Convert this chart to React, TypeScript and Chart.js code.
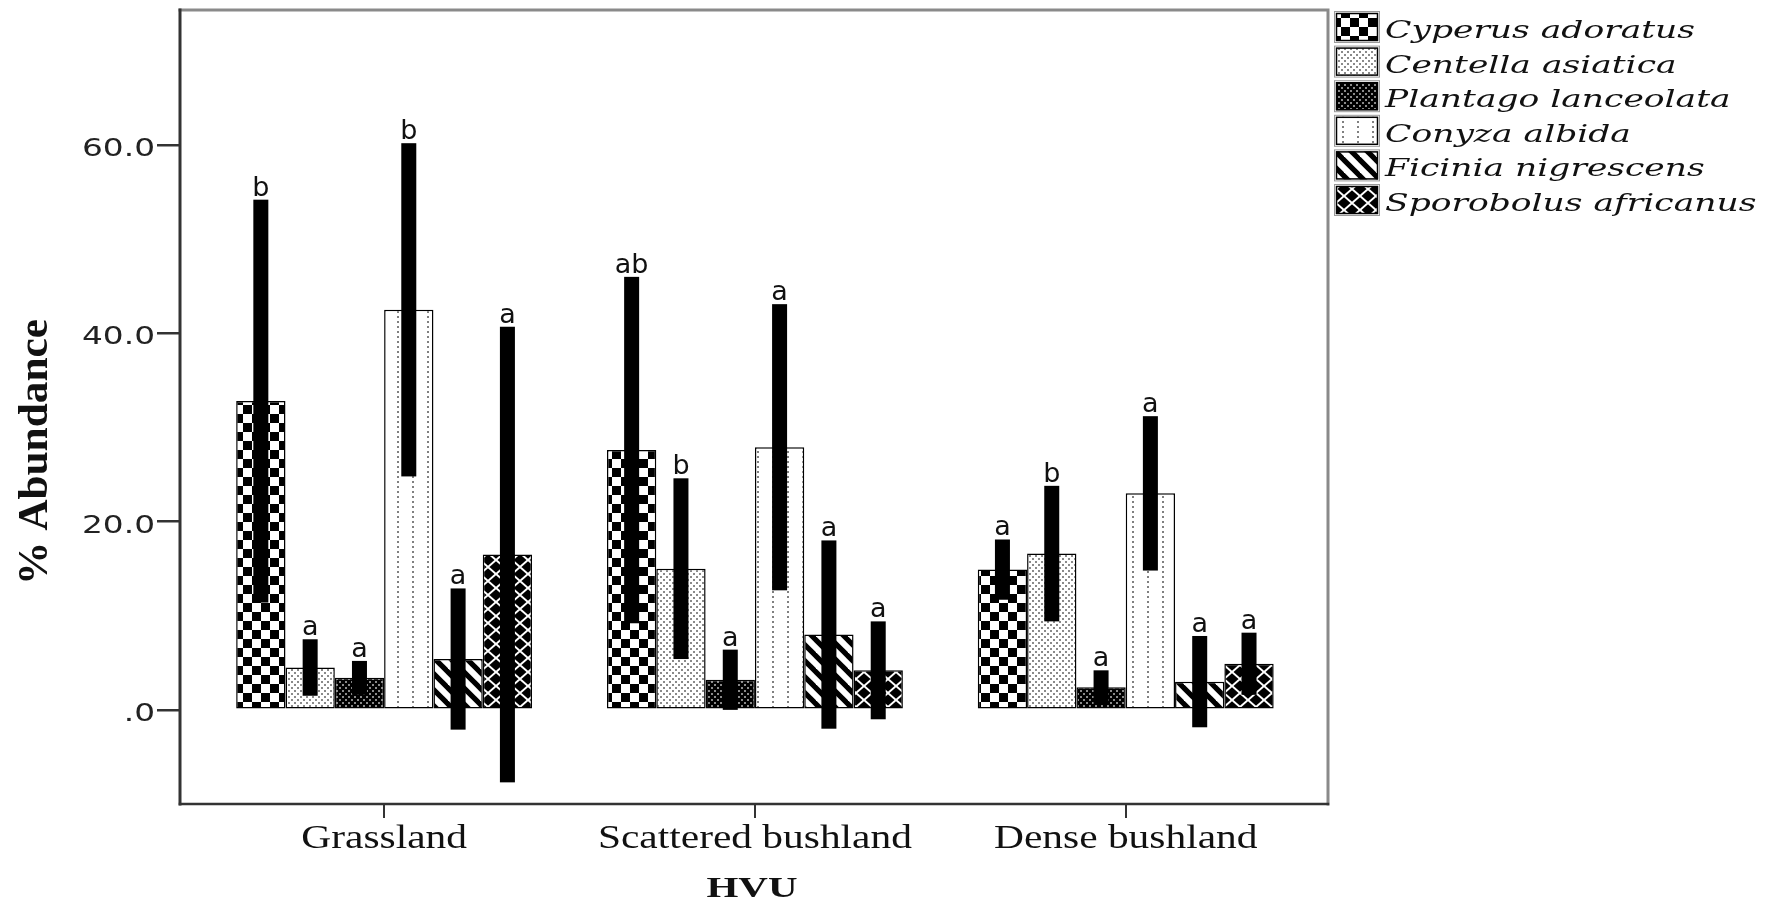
import React, { useEffect, useRef } from 'react';
import { Chart, registerables } from 'chart.js';

Chart.register(...registerables);

// ---------- data ----------
const categories = ['Grassland', 'Scattered bushland', 'Dense bushland'];
const speciesNames = [
  'Cyperus adoratus',
  'Centella asiatica',
  'Plantago lanceolata',
  'Conyza albida',
  'Ficinia nigrescens',
  'Sporobolus africanus',
];

const cyperusMean = [32.8, 27.6, 14.9];
const cyperusErr = [21.4, 18.4, 3.2];
const cyperusLetters = ['b', 'ab', 'a'];

const centellaMean = [4.5, 15.0, 16.6];
const centellaErr = [3.0, 9.6, 7.2];
const centellaLetters = ['a', 'b', 'b'];

const plantagoMean = [3.4, 3.2, 2.4];
const plantagoErr = [1.8, 3.2, 1.8];
const plantagoLetters = ['a', 'a', 'a'];

const conyzaMean = [42.5, 27.9, 23.0];
const conyzaErr = [17.7, 15.2, 8.2];
const conyzaLetters = ['b', 'a', 'a'];

const ficiniaMean = [5.4, 8.0, 3.0];
const ficiniaErr = [7.5, 10.0, 4.85];
const ficiniaLetters = ['a', 'a', 'a'];

const sporobolusMean = [16.5, 4.2, 4.9];
const sporobolusErr = [24.2, 5.2, 3.3];
const sporobolusLetters = ['a', 'a', 'a'];

const yTicks = [0, 20, 40, 60];
const yTickLabels = ['.0', '20.0', '40.0', '60.0'];
const yMin = -10;
const yMax = 74.35;
const xMin = -0.5505;
const xMax = 2.5455;
const xAxisTitle = 'HVU';
const yAxisTitle = '% Abundance';

// ---------- patterns ----------
function makePattern(w: number, h: number, draw: (g: CanvasRenderingContext2D) => void) {
  const c = document.createElement('canvas');
  c.width = w;
  c.height = h;
  const g = c.getContext('2d')!;
  draw(g);
  return g.createPattern(c, 'repeat')!;
}

function buildPatterns() {
  const checker = makePattern(18, 18, (g) => {
    g.fillStyle = '#fff';
    g.fillRect(0, 0, 18, 18);
    g.fillStyle = '#000';
    g.fillRect(0, 0, 9, 9);
    g.fillRect(9, 9, 9, 9);
  });
  const lightDots = makePattern(6, 6, (g) => {
    g.fillStyle = '#fff';
    g.fillRect(0, 0, 6, 6);
    g.fillStyle = '#8a8a8a';
    g.fillRect(0, 0, 2, 2);
    g.fillRect(3, 3, 2, 2);
  });
  const darkDots = makePattern(6, 6, (g) => {
    g.fillStyle = '#000';
    g.fillRect(0, 0, 6, 6);
    g.fillStyle = '#8a8a8a';
    g.fillRect(0, 0, 2, 2);
    g.fillRect(3, 3, 2, 2);
  });
  const vDots = makePattern(15, 5, (g) => {
    g.fillStyle = '#fff';
    g.fillRect(0, 0, 15, 5);
    g.fillStyle = '#808080';
    g.fillRect(7, 1, 2, 2);
  });
  const stripes = makePattern(16, 16, (g) => {
    g.fillStyle = '#fff';
    g.fillRect(0, 0, 16, 16);
    g.strokeStyle = '#000';
    g.lineWidth = 5.2;
    for (const k of [-16, 0, 16]) {
      g.beginPath();
      g.moveTo(k - 2, -2);
      g.lineTo(k + 18, 18);
      g.stroke();
    }
  });
  const lattice = makePattern(16, 14, (g) => {
    g.fillStyle = '#000';
    g.fillRect(0, 0, 16, 14);
    g.strokeStyle = '#fff';
    g.lineWidth = 2;
    g.beginPath();
    g.moveTo(0, 0);
    g.lineTo(16, 14);
    g.moveTo(16, 0);
    g.lineTo(0, 14);
    g.stroke();
  });
  return [checker, lightDots, darkDots, vDots, stripes, lattice];
}

function drawText(
  ctx: CanvasRenderingContext2D,
  text: string,
  x: number,
  y: number,
  font: string,
  align: CanvasTextAlign,
  sx: number,
  color = '#111'
) {
  ctx.save();
  ctx.font = font;
  ctx.fillStyle = color;
  ctx.textAlign = align;
  ctx.textBaseline = 'alphabetic';
  ctx.translate(x, y);
  ctx.scale(sx, 1);
  ctx.fillText(text, 0, 0);
  ctx.restore();
}

function widthScale(ctx: CanvasRenderingContext2D, font: string, sample: string, target: number) {
  ctx.save();
  ctx.font = font;
  const w = ctx.measureText(sample).width;
  ctx.restore();
  return w > 0 ? target / w : 1;
}

export default function App() {
  const ref = useRef<HTMLCanvasElement>(null);

  useEffect(() => {
    const canvas = ref.current!;
    const patterns = buildPatterns();
    const series = [
      { name: speciesNames[0], mean: cyperusMean, err: cyperusErr, letters: cyperusLetters },
      { name: speciesNames[1], mean: centellaMean, err: centellaErr, letters: centellaLetters },
      { name: speciesNames[2], mean: plantagoMean, err: plantagoErr, letters: plantagoLetters },
      { name: speciesNames[3], mean: conyzaMean, err: conyzaErr, letters: conyzaLetters },
      { name: speciesNames[4], mean: ficiniaMean, err: ficiniaErr, letters: ficiniaLetters },
      { name: speciesNames[5], mean: sporobolusMean, err: sporobolusErr, letters: sporobolusLetters },
    ];

    const decor = {
      id: 'decor',
      afterDatasetsDraw(chart: any) {
        const ctx = chart.ctx as CanvasRenderingContext2D;
        const ys = chart.scales.y;
        series.forEach((s, di) => {
          const meta = chart.getDatasetMeta(di);
          meta.data.forEach((bar: any, i: number) => {
            const cx = bar.x;
            const top = ys.getPixelForValue(s.mean[i] + s.err[i]);
            const bot = ys.getPixelForValue(s.mean[i] - s.err[i]);
            ctx.save();
            ctx.fillStyle = '#000';
            ctx.fillRect(cx - 7.5, top, 15, bot - top);
            ctx.restore();
            drawText(ctx, s.letters[i], cx, top - 4, '27px "DejaVu Sans"', 'center', 1, '#111');
          });
        });
      },
      afterDraw(chart: any) {
        const ctx = chart.ctx as CanvasRenderingContext2D;
        const area = chart.chartArea;
        const xs = chart.scales.x;
        const ys = chart.scales.y;

        // frame
        ctx.save();
        ctx.lineCap = 'square';
        ctx.strokeStyle = '#8a8a8a';
        ctx.lineWidth = 3;
        ctx.beginPath();
        ctx.moveTo(area.left, area.top);
        ctx.lineTo(area.right, area.top);
        ctx.lineTo(area.right, area.bottom);
        ctx.stroke();
        ctx.strokeStyle = '#333';
        ctx.lineWidth = 3;
        ctx.beginPath();
        ctx.moveTo(area.left, area.top);
        ctx.lineTo(area.left, area.bottom);
        ctx.stroke();
        ctx.lineWidth = 2.5;
        ctx.beginPath();
        ctx.moveTo(area.left, area.bottom);
        ctx.lineTo(area.right, area.bottom);
        ctx.stroke();
        ctx.restore();

        // y tick labels
        const yFont = '24px "DejaVu Sans"';
        const sxY = widthScale(ctx, yFont, '60.0', 73);
        yTicks.forEach((v, i) => {
          drawText(ctx, yTickLabels[i], area.left - 25, ys.getPixelForValue(v) + 11, yFont, 'right', sxY, '#222');
        });

        // x tick labels
        const xFont = '33px "Liberation Serif"';
        const sxX = widthScale(ctx, xFont, 'Scattered bushland', 314);
        categories.forEach((c, i) => {
          drawText(ctx, c, xs.getPixelForValue(i), area.bottom + 44, xFont, 'center', sxX, '#111');
        });

        // axis titles
        const xtFont = 'bold 30px "Liberation Serif"';
        drawText(ctx, xAxisTitle, (area.left + area.right) / 2 - 2, area.bottom + 93, xtFont, 'center',
          widthScale(ctx, xtFont, xAxisTitle, 91), '#111');

        const ytFont = 'bold 43px "Liberation Serif"';
        const sxT = widthScale(ctx, ytFont, yAxisTitle, 266);
        ctx.save();
        ctx.translate(47, (area.top + area.bottom) / 2 + 45);
        ctx.rotate(-Math.PI / 2);
        drawText(ctx, yAxisTitle, 0, 0, ytFont, 'center', sxT, '#111');
        ctx.restore();

        // legend
        const lFont = 'italic 25px "DejaVu Serif"';
        const sxL = widthScale(ctx, lFont, speciesNames[0], 310);
        speciesNames.forEach((name, i) => {
          const yc = 27 + 34.6 * i;
          ctx.save();
          ctx.fillStyle = patterns[i];
          ctx.fillRect(1336, yc - 14, 42, 28);
          ctx.strokeStyle = '#000';
          ctx.lineWidth = 1.5;
          ctx.strokeRect(1336.5, yc - 13.5, 41, 27);
          ctx.strokeStyle = '#999';
          ctx.lineWidth = 1;
          ctx.strokeRect(1334.5, yc - 15.5, 45, 31);
          ctx.restore();
          drawText(ctx, name, 1385, yc + 11, lFont, 'left', sxL, '#111');
        });
      },
    };

    const chart = new Chart(canvas, {
      type: 'bar',
      data: {
        datasets: series.map((s, di) => ({
          label: s.name,
          data: s.mean.map((v, i) => ({ x: i, y: v })),
          backgroundColor: patterns[di] as any,
          borderColor: '#000',
          borderWidth: 1.5,
          borderSkipped: false,
          categoryPercentage: 0.798,
          barPercentage: 1,
        })),
      },
      options: {
        animation: false,
        responsive: false,
        devicePixelRatio: 1,
        layout: { padding: { left: 0, top: 10, right: 445, bottom: 0 } },
        plugins: {
          legend: { display: false },
          tooltip: { enabled: false },
          title: { display: false },
        },
        scales: {
          x: {
            type: 'linear',
            min: xMin,
            max: xMax,
            offset: false,
            grid: {
              offset: false,
              drawOnChartArea: false,
              drawTicks: true,
              tickLength: 14,
              color: '#333',
              lineWidth: 2,
            },
            border: { display: false },
            ticks: { display: false },
            afterBuildTicks: (s: any) => {
              s.ticks = categories.map((_, i) => ({ value: i }));
            },
            afterFit: (s: any) => {
              s.height = 98;
            },
          },
          y: {
            type: 'linear',
            min: yMin,
            max: yMax,
            grid: {
              drawOnChartArea: false,
              drawTicks: true,
              tickLength: 23,
              color: '#333',
              lineWidth: 2.5,
            },
            border: { display: false },
            ticks: { display: false },
            afterBuildTicks: (s: any) => {
              s.ticks = yTicks.map((v) => ({ value: v }));
            },
            afterFit: (s: any) => {
              s.width = 180;
            },
          },
        },
      } as any,
      plugins: [decor],
    });

    return () => chart.destroy();
  }, []);

  return (
    <canvas
      ref={ref}
      width={1773}
      height={902}
      style={{ position: 'fixed', left: 0, top: 0, width: 1773, height: 902, background: '#fff' }}
    />
  );
}
